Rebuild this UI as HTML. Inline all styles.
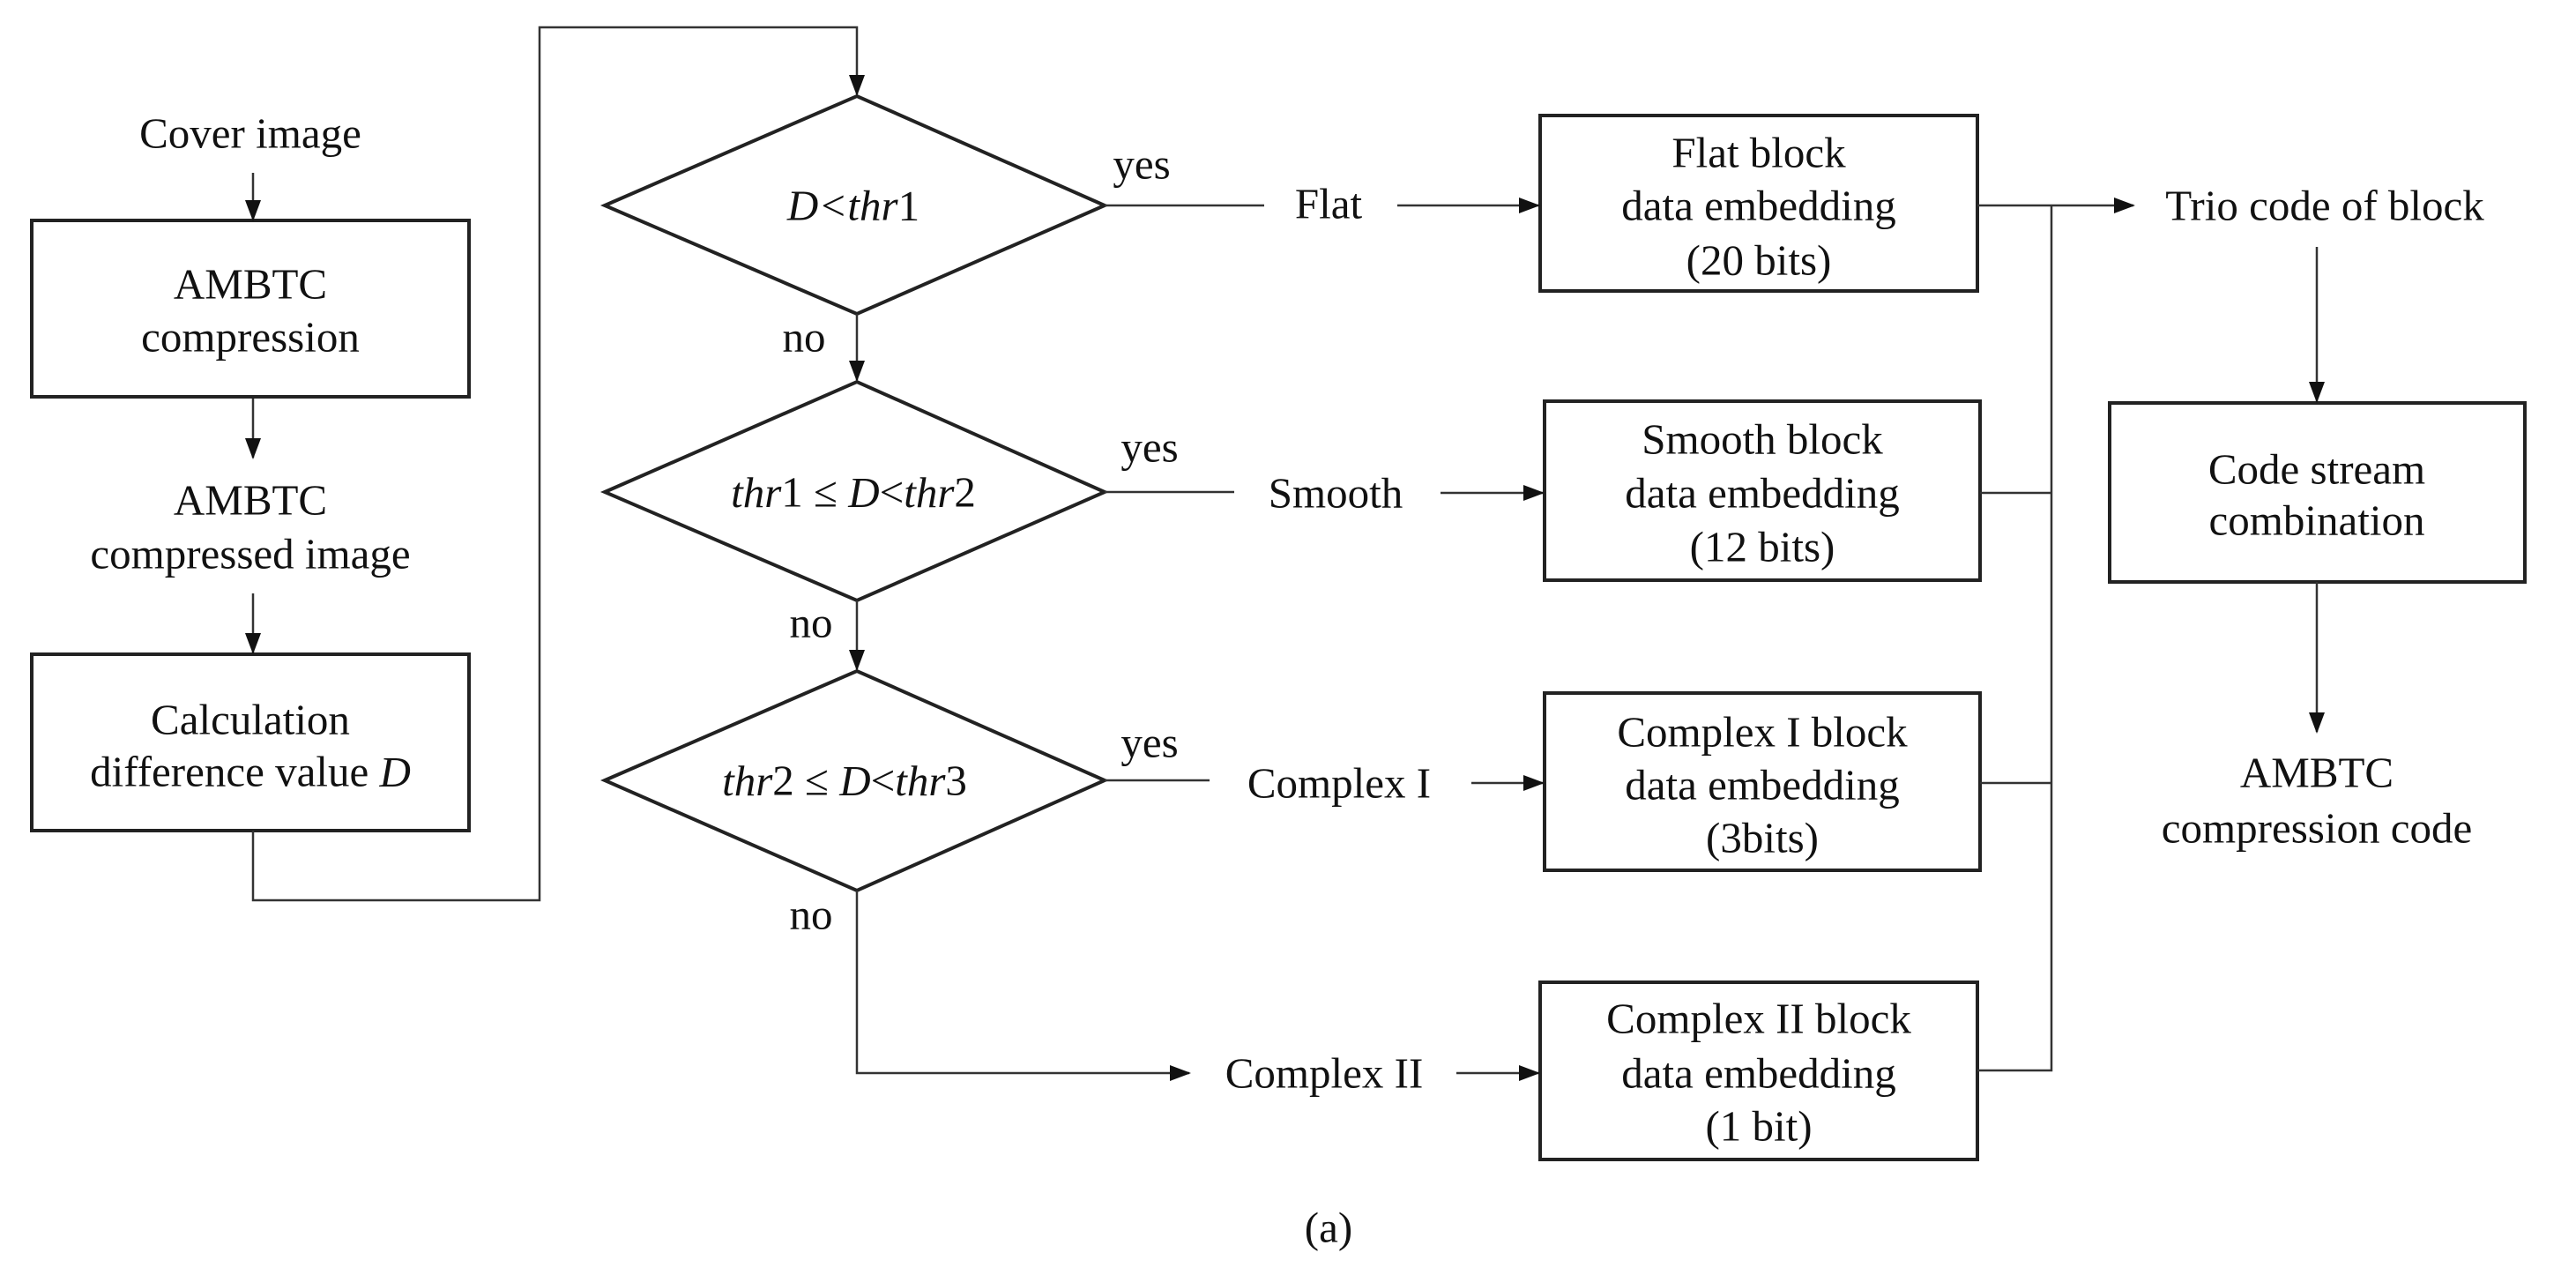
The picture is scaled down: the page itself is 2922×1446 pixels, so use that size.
<!DOCTYPE html>
<html><head><meta charset="utf-8"><style>
html,body{margin:0;padding:0;background:#fff;}
svg{display:block;}
text{font-family:"Liberation Serif",serif;font-size:49px;fill:#111;text-anchor:middle;dominant-baseline:central;}
.i{font-style:italic;}
</style></head><body>
<svg width="2922" height="1446" viewBox="0 0 2922 1446" xmlns="http://www.w3.org/2000/svg">
<defs>
<marker id="b" markerWidth="24" markerHeight="24" refX="22" refY="12" orient="auto" markerUnits="userSpaceOnUse" viewBox="0 0 24 24"><path d="M0,3 L24,12 L0,21 z" fill="#111"/></marker></defs>
<g fill="none" stroke="#222" stroke-width="4">
<rect x="36" y="250" width="496" height="200"/>
<rect x="36" y="742" width="496" height="200"/>
<polygon points="686,233 972,109 1253,233 972,356"/>
<polygon points="686,558 972,433 1253,558 972,681"/>
<polygon points="686,885 972,761 1253,885 972,1010"/>
<rect x="1747" y="131" width="496" height="199"/>
<rect x="1752" y="455" width="494" height="203"/>
<rect x="1752" y="786" width="494" height="201"/>
<rect x="1747" y="1114" width="496" height="201"/>
<rect x="2393" y="457" width="471" height="203"/>
</g>
<g fill="none" stroke="#333" stroke-width="2.5">
<path d="M287,196 V249" marker-end="url(#b)"/>
<path d="M287,452 V519" marker-end="url(#b)"/>
<path d="M287,673 V740" marker-end="url(#b)"/>
<path d="M287,942 V1021 H612 V31 H972 V107" marker-end="url(#b)"/>
<path d="M972,356 V431" marker-end="url(#b)"/>
<path d="M972,681 V759" marker-end="url(#b)"/>
<path d="M972,1010 V1217 H1349" marker-end="url(#b)"/>
<path d="M1253,233 H1434"/>
<path d="M1253,558 H1400"/>
<path d="M1253,885 H1372"/>
<path d="M1585,233 H1745" marker-end="url(#b)"/>
<path d="M1634,559 H1750" marker-end="url(#b)"/>
<path d="M1669,888 H1750" marker-end="url(#b)"/>
<path d="M1652,1217 H1745" marker-end="url(#b)"/>
<path d="M2243,233 H2420" marker-end="url(#b)"/>
<path d="M2327,233 V1214 H2243"/>
<path d="M2246,559 H2327"/>
<path d="M2246,888 H2327"/>
<path d="M2628,280 V455" marker-end="url(#b)"/>
<path d="M2628,660 V830" marker-end="url(#b)"/>
</g>
<text x="284" y="151">Cover image</text>
<text x="284" y="322">AMBTC</text>
<text x="284" y="382">compression</text>
<text x="284" y="567">AMBTC</text>
<text x="284" y="628">compressed image</text>
<text x="284" y="816">Calculation</text>
<text x="284" y="875">difference value <tspan class="i">D</tspan></text>
<text x="968" y="233" class="i">D&lt;thr<tspan font-style="normal">1</tspan></text>
<text x="968" y="558"><tspan class="i">thr</tspan>1 ≤ <tspan class="i">D</tspan>&lt;<tspan class="i">thr</tspan>2</text>
<text x="958" y="885"><tspan class="i">thr</tspan>2 ≤ <tspan class="i">D</tspan>&lt;<tspan class="i">thr</tspan>3</text>
<text x="1295" y="186">yes</text>
<text x="1304" y="507">yes</text>
<text x="1304" y="842">yes</text>
<text x="912" y="382">no</text>
<text x="920" y="706">no</text>
<text x="920" y="1037">no</text>
<text x="1507" y="231">Flat</text>
<text x="1515" y="559">Smooth</text>
<text x="1519" y="888">Complex I</text>
<text x="1502" y="1217">Complex II</text>
<text x="1995" y="173">Flat block</text>
<text x="1995" y="233">data embedding</text>
<text x="1995" y="295">(20 bits)</text>
<text x="1999" y="498">Smooth block</text>
<text x="1999" y="559">data embedding</text>
<text x="1999" y="620">(12 bits)</text>
<text x="1999" y="830">Complex I block</text>
<text x="1999" y="890">data embedding</text>
<text x="1999" y="950">(3bits)</text>
<text x="1995" y="1155">Complex II block</text>
<text x="1995" y="1217">data embedding</text>
<text x="1995" y="1277">(1 bit)</text>
<text x="2637" y="233">Trio code of block</text>
<text x="2628" y="532">Code stream</text>
<text x="2628" y="590">combination</text>
<text x="2628" y="876">AMBTC</text>
<text x="2628" y="939">compression code</text>
<text x="1507" y="1392">(a)</text>
</svg>
</body></html>
